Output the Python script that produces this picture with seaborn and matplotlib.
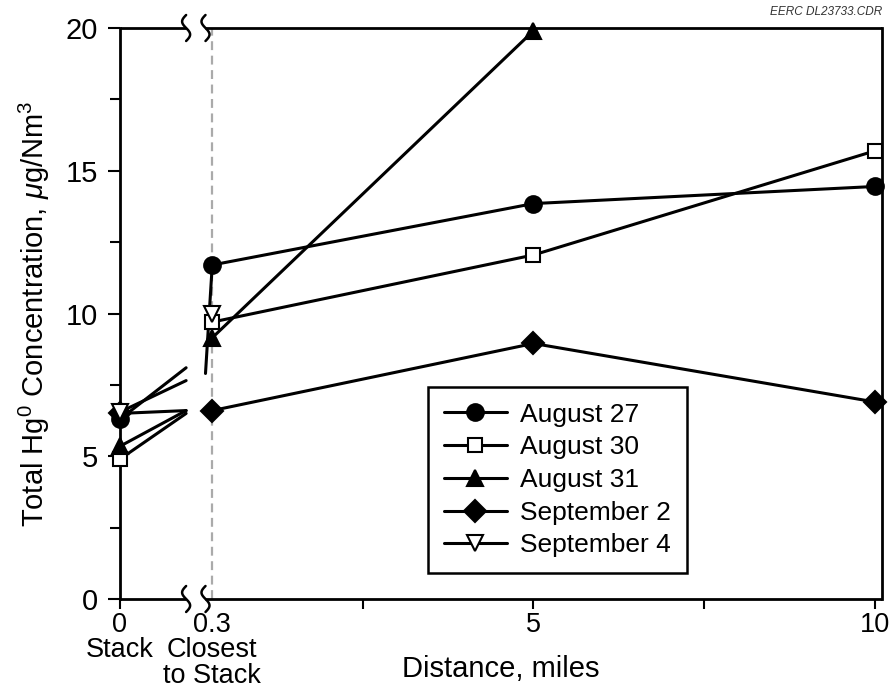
import numpy as np
import pandas as pd
import matplotlib
matplotlib.use("Agg")
import matplotlib.pyplot as plt
import seaborn as sns

# --- data ---
series_names = ["August 27", "August 30", "August 31", "September 2", "September 4"]
dist_main = [0.3, 5, 10]
aug27 = [11.7, 13.85, 14.45]
aug30 = [9.7, 12.05, 15.7]
aug31 = [9.15, 19.9]
sep2 = [6.6, 8.95, 6.9]
sep4 = [10.0]
main_values = [aug27, aug30, aug31, sep2, sep4]

# concentrations at the stack (distance 0)
stack_values = [6.3, 4.9, 5.35, 6.5, 6.55]
# where the stack lines stop at the axis break
stub_left = [8.1, 6.5, 6.6, 6.6, 7.65]
# where the 0.3-mile lines start again after the break (only Aug 27 visible)
stub_right = [7.9, None, None, None, None]

markers = ["o", "s", "^", "D", "v"]
fills = ["black", "white", "black", "black", "white"]
msizes = [12, 10, 12, 11, 11]

break_lo, break_hi = 0.215, 0.278

# broken x axis: 0 -> 0.3 squeezed into a short piece
X0 = -1.05


def fwd(x):
    x = np.asarray(x, float)
    return np.where(x < 0.3, X0 + x * (0.3 - X0) / 0.3, x)


def inv(p):
    p = np.asarray(p, float)
    return np.where(p < 0.3, (p - X0) * 0.3 / (0.3 - X0), p)


sns.set_style("ticks")
plt.rcParams["font.family"] = ["Liberation Sans", "DejaVu Sans"]
plt.rcParams["mathtext.fontset"] = "custom"
plt.rcParams["mathtext.rm"] = "Liberation Sans"
plt.rcParams["mathtext.it"] = "Liberation Sans:italic"
for key in ["text.color", "axes.labelcolor", "xtick.color", "ytick.color",
            "axes.edgecolor"]:
    plt.rcParams[key] = "black"

fig = plt.figure(figsize=(8.92, 6.92), dpi=100)
ax = fig.add_axes([120 / 892, 1 - 599 / 692, 762 / 892, 571 / 692])
ax.set_xscale("function", functions=(fwd, inv))
ax.set_xlim(0, 10.1)
ax.set_ylim(0, 20)

lw = 2.2
ax.axvline(0.3, color="#aaaaaa", lw=1.6, ls=(0, (4, 2.5)), zorder=0)

for i, name in enumerate(series_names):
    vals = main_values[i]
    style = dict(color="black", lw=lw, marker=markers[i], markersize=msizes[i],
                 markerfacecolor=fills[i], markeredgecolor="black",
                 markeredgewidth=1.5, clip_on=False)
    # stack point and line running into the break
    sns.lineplot(x=[0, break_lo], y=[stack_values[i], stub_left[i]], ax=ax,
                 markevery=[0], zorder=4 + i * 0.1, **style)
    if stub_right[i] is not None:
        sns.lineplot(x=[break_hi, 0.3], y=[stub_right[i], vals[0]], ax=ax,
                     color="black", lw=lw, zorder=3)
    sns.lineplot(x=dist_main[:len(vals)], y=vals, ax=ax, label=name,
                 zorder=5 + i * 0.1, **style)

# spines with a break
ax.spines["top"].set_visible(False)
ax.spines["bottom"].set_visible(False)
for s in ["left", "right"]:
    ax.spines[s].set_linewidth(2)
to_axes = ax.transData + ax.transAxes.inverted()
f_lo = to_axes.transform((break_lo, 0))[0]
f_hi = to_axes.transform((break_hi, 0))[0]
for yy in [0, 1]:
    ax.plot([0, f_lo], [yy, yy], transform=ax.transAxes, color="black", lw=2,
            clip_on=False, solid_capstyle="butt")
    ax.plot([f_hi, 1], [yy, yy], transform=ax.transAxes, color="black", lw=2,
            clip_on=False, solid_capstyle="butt")
    t = np.linspace(-1, 1, 40)
    for fc in [f_lo, f_hi]:
        ax.plot(fc + (4 / 762) * np.sin(np.pi * t), yy - (13 / 571) * t,
                transform=ax.transAxes, color="black", lw=1.8, clip_on=False)

# ticks
ax.set_xticks([0, 0.3, 5, 10])
ax.set_xticklabels(["0\nStack", "0.3\nClosest\nto Stack", "5", "10"])
ax.set_xticks([2.5, 7.5], minor=True)
ax.set_yticks([0, 5, 10, 15, 20])
ax.set_yticks(np.arange(2.5, 20, 5), minor=True)
ax.tick_params(axis="both", which="major", labelsize=21, width=1.5, length=9,
               direction="out", pad=7, color="black", labelcolor="black")
ax.tick_params(axis="both", which="minor", width=1.5, length=7, direction="out")
ax.tick_params(axis="x", which="major", length=7, pad=2, labelsize=19.5)
ax.xaxis.get_major_ticks()[1].tick1line.set_visible(False)
for lab in ax.get_xticklabels():
    lab.set_linespacing(0.98)

ax.set_xlabel("Distance, miles", fontsize=21, labelpad=-24)
ax.set_ylabel(r"Total Hg$^0$ Concentration, $\mu$g/Nm$^3$", fontsize=21, labelpad=10)

leg = ax.legend(loc="lower left", bbox_to_anchor=(0.404, 0.045), fontsize=19,
                frameon=True, fancybox=False, framealpha=1, edgecolor="black",
                handlelength=2.4, labelspacing=0.33, borderpad=0.6,
                handletextpad=0.5, borderaxespad=0)
leg.get_frame().set_linewidth(1.8)
for txt in leg.get_texts():
    txt.set_color("black")

fig.text(882 / 892, 1 - 12 / 692, "EERC DL23733.CDR", ha="right", va="center",
         fontsize=8.5, style="italic", color="#333333")

fig.savefig("out.png", dpi=100)
